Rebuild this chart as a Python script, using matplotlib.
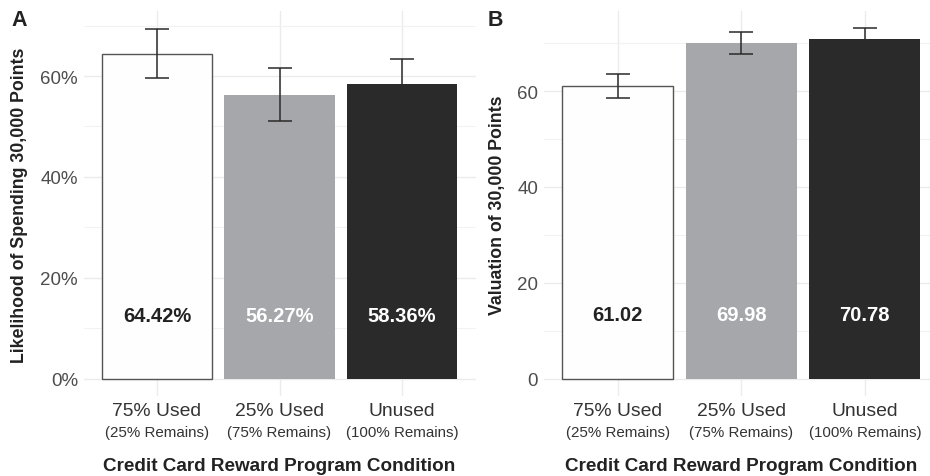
import numpy as np
import matplotlib.pyplot as plt
from matplotlib.ticker import FixedLocator

plt.rcParams['font.family'] = ['Liberation Sans', 'DejaVu Sans']

# ---- data ----
conditions = ["75% Used", "25% Used", "Unused"]
remains = ["(25% Remains)", "(75% Remains)", "(100% Remains)"]

likelihood = [64.42, 56.27, 58.36]
likelihood_err = [4.9, 5.25, 5.05]

valuation = [61.02, 69.98, 70.78]
valuation_err = [2.5, 2.27, 2.27]

bar_colors = ["#fefefe", "#a6a7ab", "#2b2a2b"]
label_colors = ["#222222", "#ffffff", "#ffffff"]

W, H = 930, 477
fig = plt.figure(figsize=(W / 100, H / 100), dpi=100)


def panel(left_px, width_px, vals, errs, ylim, majors, minors, fmt, label_y,
          labels, ylabel, letter, letter_x, ylabel_x):
    ax = fig.add_axes([left_px / W, 80 / H, width_px / W, 385 / H])
    x = np.arange(len(vals))
    ax.bar(x, vals, width=0.9, color=bar_colors,
           edgecolor=["#555555", "none", "none"], linewidth=1.0, zorder=2)
    ax.errorbar(x, vals, yerr=errs, fmt="none", ecolor="#2b2a2b",
                elinewidth=1.1, capsize=8.9, capthick=1.1, zorder=3)
    for xi, lab, c in zip(x, labels, label_colors):
        ax.text(xi, label_y, lab, ha="center", va="center", fontsize=14.5,
                fontweight="bold", color=c, zorder=4)

    ax.set_xlim(-0.6, 2.6)
    ax.set_ylim(*ylim)
    ax.yaxis.set_major_locator(FixedLocator(majors))
    ax.yaxis.set_minor_locator(FixedLocator(minors))
    ax.set_yticklabels([fmt(v) for v in majors])
    ax.set_xticks(x)
    ax.set_xticklabels([])
    ax.grid(True, which="major", color="#ebebeb", linewidth=1.0, zorder=0)
    ax.grid(True, which="minor", axis="y", color="#f2f2f2", linewidth=0.8, zorder=0)
    ax.set_axisbelow(True)
    for s in ax.spines.values():
        s.set_visible(False)
    ax.tick_params(axis="both", which="both", length=0)
    ax.tick_params(axis="y", labelsize=13.5, labelcolor="#4d4d4d", pad=4)

    tr = ax.get_xaxis_transform()
    for xi, c, r in zip(x, conditions, remains):
        ax.text(xi, -15 / 385, c, transform=tr, ha="center", va="center",
                fontsize=13.9, color="#333333")
        ax.text(xi, -36 / 385, r, transform=tr, ha="center", va="center",
                fontsize=10.9, color="#333333")
    ax.text(1, -70 / 385, "Credit Card Reward Program Condition", transform=tr,
            ha="center", va="center", fontsize=13.6, fontweight="bold", color="#222222")

    fig.text(ylabel_x / W, 1 - 205 / H, ylabel, rotation=90, ha="center", va="center",
             fontsize=12.8, fontweight="bold", color="#222222")
    fig.text(letter_x / W, 1 - 20 / H, letter, ha="center", va="center",
             fontsize=15.5, fontweight="bold", color="#222222")
    return ax


panel(83.5, 392, likelihood, likelihood_err, (-3.47, 72.9),
      [0, 20, 40, 60], [10, 30, 50, 70], lambda v: f"{v}%", 12.5,
      [f"{v:.2f}%" for v in likelihood],
      "Likelihood of Spending 30,000 Points", "A", 19, 20)

panel(543.6, 395.4, valuation, valuation_err, (-3.65, 76.7),
      [0, 20, 40, 60], [10, 30, 50, 70], lambda v: f"{v}", 13.35,
      [f"{v:.2f}" for v in valuation],
      "Valuation of 30,000 Points", "B", 495, 497)

fig.savefig("out.png", dpi=100, facecolor="white")
